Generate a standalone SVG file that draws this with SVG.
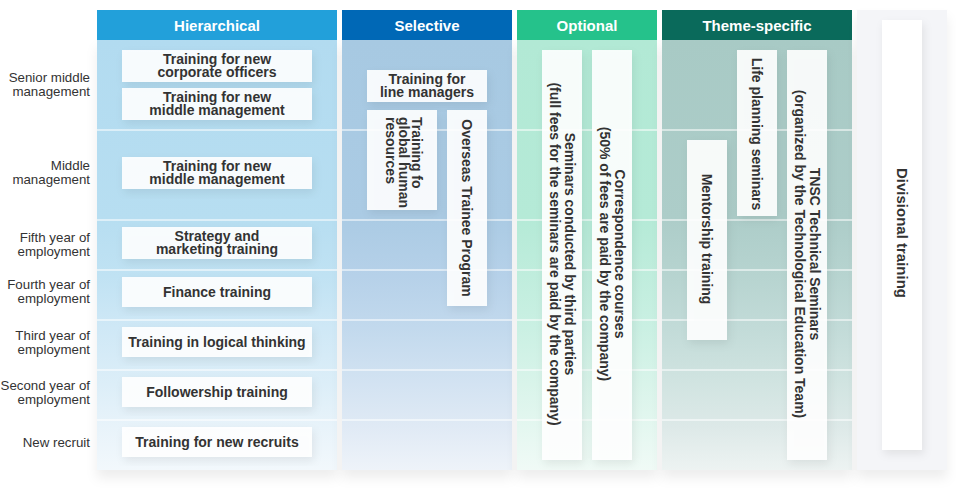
<svg xmlns="http://www.w3.org/2000/svg" width="962" height="500" viewBox="0 0 962 500">
<defs>
<linearGradient id="gH" gradientUnits="userSpaceOnUse" x1="0" y1="40" x2="0" y2="470">
<stop offset="0" stop-color="#b2dbf0"/><stop offset="0.42" stop-color="#b7def1"/><stop offset="0.55" stop-color="#c0e2f3"/><stop offset="0.67" stop-color="#cfe8f6"/><stop offset="0.8" stop-color="#dceef8"/><stop offset="0.9" stop-color="#e8f3fa"/><stop offset="1" stop-color="#f2f8fc"/>
</linearGradient>
<linearGradient id="gS" gradientUnits="userSpaceOnUse" x1="0" y1="40" x2="0" y2="470">
<stop offset="0" stop-color="#a7c9e2"/><stop offset="0.42" stop-color="#abcbe4"/><stop offset="0.55" stop-color="#b6d1e9"/><stop offset="0.67" stop-color="#c2d9ed"/><stop offset="0.8" stop-color="#d3e3f2"/><stop offset="0.9" stop-color="#e0eaf5"/><stop offset="1" stop-color="#eef3f9"/>
</linearGradient>
<linearGradient id="gO" gradientUnits="userSpaceOnUse" x1="0" y1="40" x2="0" y2="470">
<stop offset="0" stop-color="#b2e9d5"/><stop offset="0.42" stop-color="#b5ead7"/><stop offset="0.55" stop-color="#c0eddd"/><stop offset="0.67" stop-color="#caf0e3"/><stop offset="0.8" stop-color="#d9f4ea"/><stop offset="0.9" stop-color="#e4f7f0"/><stop offset="1" stop-color="#f0faf6"/>
</linearGradient>
<linearGradient id="gT" gradientUnits="userSpaceOnUse" x1="0" y1="40" x2="0" y2="470">
<stop offset="0" stop-color="#a8cac5"/><stop offset="0.42" stop-color="#adcdc9"/><stop offset="0.55" stop-color="#b7d4d0"/><stop offset="0.67" stop-color="#c2dbd8"/><stop offset="0.8" stop-color="#d1e4e1"/><stop offset="0.9" stop-color="#dde9e8"/><stop offset="1" stop-color="#edf3f2"/>
</linearGradient>
<filter id="colShadow" x="-10%" y="-10%" width="120%" height="130%">
<feDropShadow dx="0" dy="8" stdDeviation="6" flood-color="#000" flood-opacity="0.07"/>
</filter>
<filter id="boxShadow" x="-30%" y="-30%" width="160%" height="160%">
<feDropShadow dx="2" dy="4" stdDeviation="4" flood-color="#002" flood-opacity="0.08"/>
</filter>
</defs>
<style>
.hdr{font-family:"Liberation Sans",Arial,sans-serif;font-weight:bold;font-size:15px;fill:#fff;text-anchor:middle}
.lbl{font-family:"Liberation Sans",Arial,sans-serif;font-size:13.3px;fill:#333;text-anchor:end}
.box{fill:#fff;fill-opacity:0.9;filter:url(#boxShadow)}
.bt{font-family:"Liberation Sans",Arial,sans-serif;font-weight:bold;font-size:14px;fill:#333;text-anchor:middle}
.st{text-anchor:start}
.big{font-size:15px}
.sep{stroke:#fff;stroke-opacity:0.7;stroke-width:1.5}
</style>

<!-- columns -->
<g id="col-hierarchical">
<rect x="97" y="40" width="240" height="430" fill="url(#gH)" filter="url(#colShadow)"/>
<rect x="97" y="10" width="240" height="30" fill="#22a0da"/>
<text class="hdr" x="217" y="30.5">Hierarchical</text>
</g>
<g id="col-selective">
<rect x="342" y="40" width="170" height="430" fill="url(#gS)" filter="url(#colShadow)"/>
<rect x="342" y="10" width="170" height="30" fill="#0068b6"/>
<text class="hdr" x="427" y="30.5">Selective</text>
</g>
<g id="col-optional">
<rect x="517" y="40" width="140" height="430" fill="url(#gO)" filter="url(#colShadow)"/>
<rect x="517" y="10" width="140" height="30" fill="#25c28b"/>
<text class="hdr" x="587" y="30.5">Optional</text>
</g>
<g id="col-theme">
<rect x="662" y="40" width="190" height="430" fill="url(#gT)" filter="url(#colShadow)"/>
<rect x="662" y="10" width="190" height="30" fill="#0a6a5b"/>
<text class="hdr" x="757" y="30.5">Theme-specific</text>
</g>
<g id="col-divisional">
<rect x="857" y="10" width="90" height="460" fill="#f4f5f8" filter="url(#colShadow)"/>
</g>

<!-- row separators -->
<g id="row-separators">
<path class="sep" d="M97 130H337M97 220H337M97 270H337M97 320H337M97 370H337M97 420H337"/>
<path class="sep" d="M342 130H512M342 220H512M342 270H512M342 320H512M342 370H512M342 420H512"/>
<path class="sep" d="M517 130H657M517 220H657M517 270H657M517 320H657M517 370H657M517 420H657"/>
<path class="sep" d="M662 130H852M662 220H852M662 270H852M662 320H852M662 370H852M662 420H852"/>
</g>

<!-- row labels -->
<g id="row-labels">
<text class="lbl" x="90" y="82">Senior middle</text>
<text class="lbl" x="90" y="96">management</text>
<text class="lbl" x="90" y="170">Middle</text>
<text class="lbl" x="90" y="184">management</text>
<text class="lbl" x="90" y="242">Fifth year of</text>
<text class="lbl" x="90" y="256">employment</text>
<text class="lbl" x="90" y="289">Fourth year of</text>
<text class="lbl" x="90" y="303">employment</text>
<text class="lbl" x="90" y="340">Third year of</text>
<text class="lbl" x="90" y="353.5">employment</text>
<text class="lbl" x="90" y="390">Second year of</text>
<text class="lbl" x="90" y="403.5">employment</text>
<text class="lbl" x="90" y="447">New recruit</text>
</g>

<!-- hierarchical nodes -->
<g id="node-new-corporate-officers">
<rect class="box" x="122" y="50" width="190" height="32"/>
<text class="bt" x="217" y="64">Training for new</text>
<text class="bt" x="217" y="77">corporate officers</text>
</g>
<g id="node-new-middle-mgmt-senior">
<rect class="box" x="122" y="88" width="190" height="32"/>
<text class="bt" x="217" y="102">Training for new</text>
<text class="bt" x="217" y="115">middle management</text>
</g>
<g id="node-new-middle-mgmt">
<rect class="box" x="122" y="157" width="190" height="32"/>
<text class="bt" x="217" y="171">Training for new</text>
<text class="bt" x="217" y="184">middle management</text>
</g>
<g id="node-strategy-marketing">
<rect class="box" x="122" y="227" width="190" height="32"/>
<text class="bt" x="217" y="241">Strategy and</text>
<text class="bt" x="217" y="254">marketing training</text>
</g>
<g id="node-finance">
<rect class="box" x="122" y="277" width="190" height="30"/>
<text class="bt" x="217" y="297">Finance training</text>
</g>
<g id="node-logical-thinking">
<rect class="box" x="122" y="327" width="190" height="30"/>
<text class="bt" x="217" y="347">Training in logical thinking</text>
</g>
<g id="node-followership">
<rect class="box" x="122" y="377" width="190" height="30"/>
<text class="bt" x="217" y="397">Followership training</text>
</g>
<g id="node-new-recruits">
<rect class="box" x="122" y="427" width="190" height="30"/>
<text class="bt" x="217" y="447">Training for new recruits</text>
</g>

<!-- selective nodes -->
<g id="node-line-managers">
<rect class="box" x="367" y="70" width="120" height="32"/>
<text class="bt" x="427" y="84">Training for</text>
<text class="bt" x="427" y="97">line managers</text>
</g>
<g id="node-global-hr">
<rect class="box" x="367" y="110" width="70" height="100"/>
<text class="bt st" transform="translate(402,117) rotate(90)"><tspan x="0" y="-10">Training fo</tspan><tspan x="0" y="3">global human</tspan><tspan x="0" y="16">resources</tspan></text>
</g>
<g id="node-overseas-trainee">
<rect class="box" x="447" y="110" width="40" height="196"/>
<text class="bt" transform="translate(467,208) rotate(90)" x="0" y="5">Overseas Trainee Program</text>
</g>

<!-- optional nodes -->
<g id="node-third-party-seminars">
<rect class="box" x="542" y="50" width="40" height="410"/>
<text class="bt" transform="translate(562,254) rotate(90)"><tspan x="0" y="-2.5">Seminars conducted by third parties</tspan><tspan x="0" y="12.5">(full fees for the seminars are paid by the company)</tspan></text>
</g>
<g id="node-correspondence">
<rect class="box" x="592" y="50" width="40" height="410"/>
<text class="bt" transform="translate(612,254) rotate(90)"><tspan x="0" y="-2.5">Correspondence courses</tspan><tspan x="0" y="12.5">(50% of fees are paid by the company)</tspan></text>
</g>

<!-- theme-specific nodes -->
<g id="node-mentorship">
<rect class="box" x="687" y="140" width="40" height="200"/>
<text class="bt" transform="translate(707,239) rotate(90)" x="0" y="5">Mentorship training</text>
</g>
<g id="node-life-planning">
<rect class="box" x="737" y="50" width="40" height="166"/>
<text class="bt" transform="translate(757,134) rotate(90)" x="0" y="5">Life planning seminars</text>
</g>
<g id="node-tnsc">
<rect class="box" x="787" y="50" width="40" height="410"/>
<text class="bt" transform="translate(807,254) rotate(90)"><tspan x="0" y="-2.5">TNSC Technical Seminars</tspan><tspan x="0" y="12.5">(organized by the Technological Education Team)</tspan></text>
</g>

<!-- divisional -->
<g id="node-divisional">
<rect x="882" y="20" width="40" height="430" fill="#fff" filter="url(#boxShadow)"/>
<text class="bt big" transform="translate(902,233) rotate(90)" x="0" y="5">Divisional training</text>
</g>

<g id="connectors"/>
</svg>
